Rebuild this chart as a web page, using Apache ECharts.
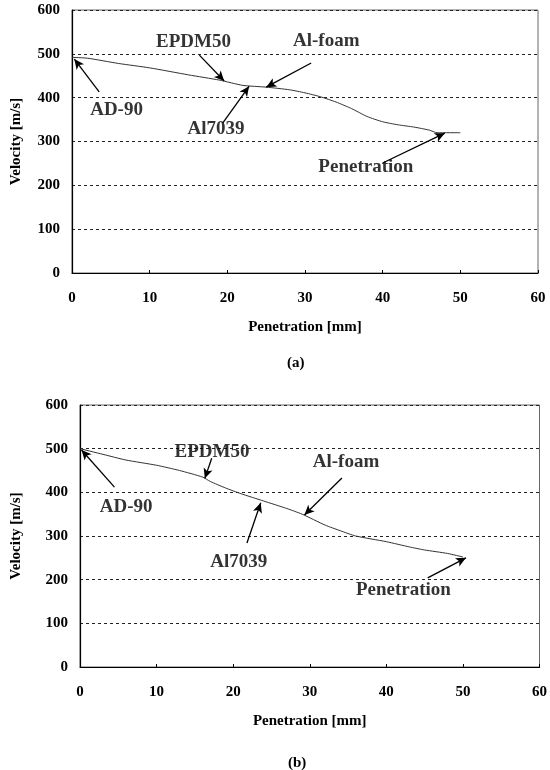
<!DOCTYPE html>
<html><head><meta charset="utf-8">
<script src="https://cdn.jsdelivr.net/npm/echarts@6/dist/echarts.min.js"></script>
<style>html,body{margin:0;padding:0;background:#fff}#c{width:550px;height:770px}</style>
</head><body><div id="c"></div>
<script>
// ---- data ----
const xTicksTop = [0, 10, 20, 30, 40, 50, 60];
const yTicks = [0, 100, 200, 300, 400, 500, 600];
const curveA = [[0,492],[2,490],[6,478],[10,468],[15,452],[19,440],[22,428],[25,424],[28,418],[30,411],[32,402],[34,390],[36,375],[38,357],[40,345],[42,338],[44,333],[46,326],[47,320],[50,320]];
const curveB = [[0,500],[3,487],[6,474],[10,462],[13,450],[16,435],[17,425],[19,410],[21,397],[24,380],[27,363],[29,350],[32,325],[34,312],[36,300],[40,287],[43,275],[45,268],[48,260],[50,252]];
const labelsA = [
  {name:'AD-90', value:[5.8,370]},
  {name:'EPDM50', value:[15.7,525]},
  {name:'Al7039', value:[18.6,328]},
  {name:'Al-foam', value:[32.8,527]},
  {name:'Penetration', value:[37.9,240]}
];
const arrowsA = [
  [[3.5,413],[0.3,488]],
  [[16.4,497],[19.6,438]],
  [[19.4,342],[22.8,426]],
  [[30.8,479],[25,424]],
  [[40,251],[48,319]]
];
const labelsB = [
  {name:'AD-90', value:[6.1,366]},
  {name:'EPDM50', value:[17.3,492]},
  {name:'Al7039', value:[20.8,240]},
  {name:'Al-foam', value:[34.8,469]},
  {name:'Penetration', value:[42.3,176]}
];
const arrowsB = [
  [[4.5,412],[0.2,497]],
  [[17.2,478],[16.3,432]],
  [[21.8,284],[23.6,376]],
  [[34.2,433],[29.3,348]],
  [[45.4,204],[50.4,250]]
];
const captions = ['(a)', '(b)'];
const xName = 'Penetration [mm]';
const yName = 'Velocity [m/s]';

// ---- chart ----
const FONT = 'Liberation Serif';
const chart = echarts.init(document.getElementById('c'), null, {renderer:'canvas'});
function xAxis(gi){
  return {type:'value', gridIndex:gi, min:0, max:60, interval:10,
    name:xName, nameLocation:'middle', nameGap:47,
    nameTextStyle:{fontFamily:FONT, fontWeight:'bold', fontSize:15, color:'#000'},
    axisLine:{show:true, onZero:false, lineStyle:{color:'#000', width:1.2}},
    axisTick:{show:true, inside:true, length:3, lineStyle:{color:'#000'}},
    axisLabel:{fontFamily:FONT, fontWeight:'bold', fontSize:15, color:'#000', margin:18},
    splitLine:{show:false}};
}
function yAxis(gi, gap){
  return {type:'value', gridIndex:gi, min:0, max:600, interval:100,
    name:yName, nameLocation:'middle', nameGap:gap,
    nameTextStyle:{fontFamily:FONT, fontWeight:'bold', fontSize:15, color:'#000'},
    axisLine:{show:true, lineStyle:{color:'#000', width:1.2}},
    axisTick:{show:false},
    axisLabel:{fontFamily:FONT, fontWeight:'bold', fontSize:15, color:'#000', margin:12},
    splitLine:{show:true, lineStyle:{color:'#222', type:[3,3], width:1}}};
}
function arrowLines(arr){
  return arr.map(a => [{coord:a[0]}, {coord:a[1]}]);
}
function series(gi, curve, labels, arrows){
  return [
    {type:'line', xAxisIndex:gi, yAxisIndex:gi, data:curve, showSymbol:false, smooth:0.2,
      lineStyle:{color:'#333', width:1}, silent:true,
      markLine:{silent:true, symbol:['none','arrow'], symbolSize:[7,10],
        lineStyle:{color:'#000', width:1.3, type:'solid'}, label:{show:false},
        data:arrowLines(arrows)}},
    {type:'scatter', xAxisIndex:gi, yAxisIndex:gi, data:labels, symbolSize:1, silent:true,
      itemStyle:{color:'rgba(0,0,0,0)'},
      label:{show:true, position:[0,0], align:'center', verticalAlign:'middle', formatter:p=>p.name,
        fontFamily:FONT, fontWeight:'bold', fontSize:19, color:'#000', textBorderWidth:0}}
  ];
}
chart.setOption({
  animation:false,
  backgroundColor:'#fff',
  title:[
    {text:captions[0], left:282, top:351, textStyle:{fontFamily:FONT, fontWeight:'bold', fontSize:15, color:'#000'}},
    {text:captions[1], left:283, top:751, textStyle:{fontFamily:FONT, fontWeight:'bold', fontSize:15, color:'#000'}}
  ],
  grid:[
    {left:72, right:12, top:10, bottom:497, show:true, borderColor:'#666', borderWidth:1},
    {left:80, right:5, top:405, bottom:103, show:true, borderColor:'#666', borderWidth:1}
  ],
  xAxis:[xAxis(0), xAxis(1)],
  yAxis:[yAxis(0, 48), yAxis(1, 56)],
  series:[...series(0, curveA, labelsA, arrowsA), ...series(1, curveB, labelsB, arrowsB)]
});
</script></body></html>
